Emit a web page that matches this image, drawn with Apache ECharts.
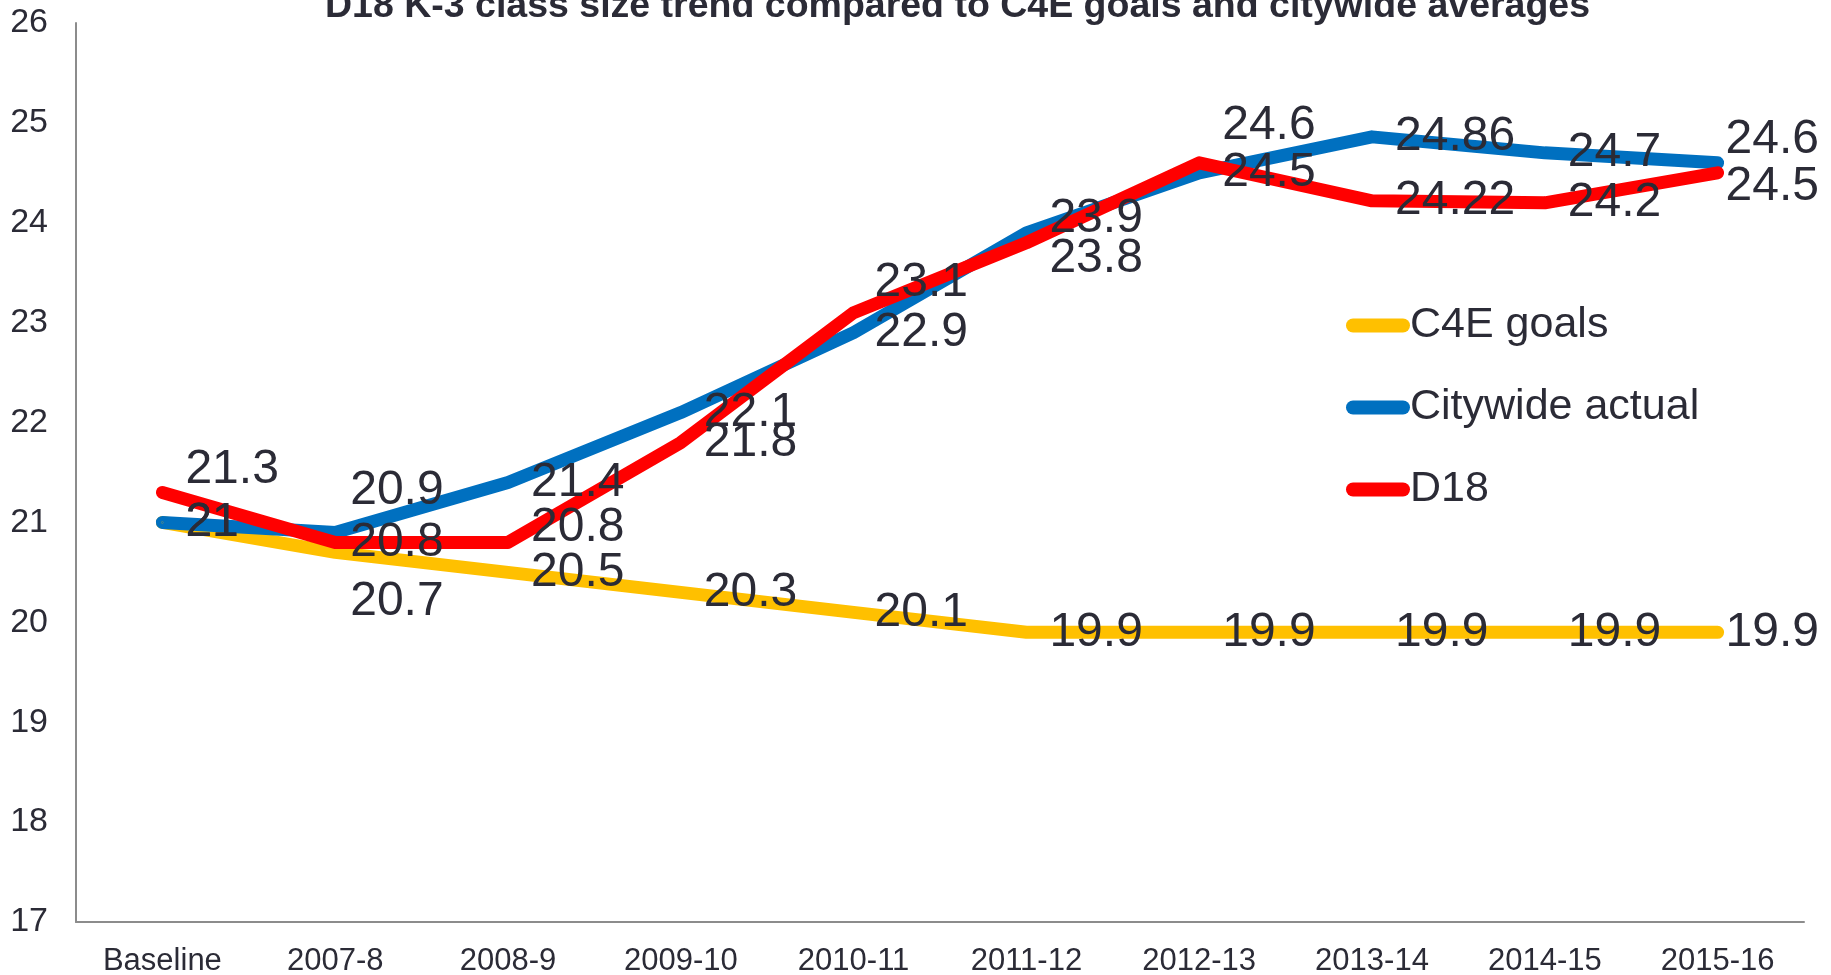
<!DOCTYPE html>
<html>
<head>
<meta charset="utf-8">
<title>D18 K-3 class size trend</title>
<script src="https://cdn.jsdelivr.net/npm/echarts@6/dist/echarts.min.js"></script>
<style>
  html, body { margin: 0; padding: 0; background: #fff; }
  #main { width: 1831px; height: 975px; }
</style>
</head>
<body>
<div id="main"></div>
<script>
  var years = ['Baseline', '2007-8', '2008-9', '2009-10', '2010-11', '2011-12', '2012-13', '2013-14', '2014-15', '2015-16'];
  var c4eGoals = [21, 20.7, 20.5, 20.3, 20.1, 19.9, 19.9, 19.9, 19.9, 19.9];
  var citywide = [21, 20.9, 21.4, 22.1, 22.9, 23.9, 24.5, 24.86, 24.7, 24.6];
  var d18 = [21.3, 20.8, 20.8, 21.8, 23.1, 23.8, 24.6, 24.22, 24.2, 24.5];
  var yTicks = [17, 18, 19, 20, 21, 22, 23, 24, 25, 26];

  var textColor = '#2b2b36';

  // label nudges (px) so the numbers don't sit on top of each other
  var shiftX = [0, -8, 0, 0, -2, 0, 0, 0, 0, -15];
  var shiftY = {
    c4e:  [0, 49, 0, 0, 0, 0, 0, 0, 0, 0],
    city: [0, -42, 0, 0, 0, -14, 0, 0, 0, -23],
    d18:  [-23, 0, -15, 0, -30, 16, -37, 0, 0, 14]
  };

  function withLabels(values, key) {
    return values.map(function (v, i) {
      return { value: v, label: { offset: [shiftX[i], shiftY[key][i]] } };
    });
  }

  function lineSeries(name, color, values, key) {
    return {
      name: name,
      type: 'line',
      data: withLabels(values, key),
      symbol: 'circle',
      symbolSize: 2,
      itemStyle: { color: color },
      lineStyle: { color: color, width: 13, cap: 'round', join: 'round' },
      label: {
        show: true,
        position: 'right',
        distance: 22,
        color: textColor,
        fontSize: 48,
        fontFamily: 'Liberation Sans, Arial, sans-serif'
      },
      emphasis: { disabled: true }
    };
  }

  var myChart = echarts.init(document.getElementById('main'));

  var option = {
    animation: false,
    backgroundColor: '#fff',
    title: {
      text: 'D18 K-3 class size trend compared to C4E goals and citywide averages',
      left: 325,
      top: -12,
      padding: 0,
      textStyle: {
        color: textColor,
        fontSize: 37.5,
        fontWeight: 'bold',
        fontFamily: 'Liberation Sans, Arial, sans-serif'
      }
    },
    legend: {
      orient: 'vertical',
      left: 1346,
      top: 304,
      padding: 0,
      itemGap: 39,
      itemWidth: 64,
      itemHeight: 14,
      icon: 'path://M7,0H57A7,7,0,0,1,57,14H7A7,7,0,0,1,7,0Z',
      itemStyle: { borderWidth: 0 },
      textStyle: {
        color: textColor,
        fontSize: 43,
        lineHeight: 43,
        fontFamily: 'Liberation Sans, Arial, sans-serif',
        padding: [0, 0, 0, -5]
      },
      data: ['C4E goals', 'Citywide actual', 'D18']
    },
    grid: {
      left: 76,
      right: 27,
      top: 23,
      bottom: 53,
      outerBoundsMode: 'none'
    },
    xAxis: {
      type: 'category',
      data: years,
      boundaryGap: true,
      axisTick: { show: false },
      axisLine: { lineStyle: { color: '#8c8c8c', width: 2 } },
      axisLabel: {
        margin: 24,
        color: textColor,
        fontSize: 31,
        fontFamily: 'Liberation Sans, Arial, sans-serif'
      }
    },
    yAxis: {
      type: 'value',
      min: yTicks[0],
      max: yTicks[yTicks.length - 1],
      interval: 1,
      splitLine: { show: false },
      axisTick: { show: false },
      axisLine: { show: true, lineStyle: { color: '#8c8c8c', width: 2 } },
      axisLabel: {
        margin: 28,
        color: textColor,
        fontSize: 34,
        fontFamily: 'Liberation Sans, Arial, sans-serif'
      }
    },
    series: [
      lineSeries('C4E goals', '#ffc000', c4eGoals, 'c4e'),
      lineSeries('Citywide actual', '#0070c0', citywide, 'city'),
      lineSeries('D18', '#ff0000', d18, 'd18')
    ]
  };

  myChart.setOption(option);
  window.addEventListener('resize', function () {
    myChart.resize();
  });
</script>
</body>
</html>
